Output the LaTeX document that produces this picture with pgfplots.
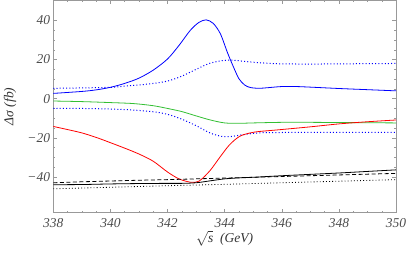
\documentclass[border=0pt]{standalone}
\usepackage{pgfplots}
\pgfplotsset{compat=1.18}
\usepackage{fontspec}
\setmainfont{Liberation Serif}
\definecolor{mgreen}{rgb}{0.2,0.75,0.2}
\definecolor{framegray}{gray}{0.6}
\definecolor{labgray}{gray}{0.3}
\begin{document}
\begin{tikzpicture}
\begin{axis}[
  name=ax,
  scale only axis,
  width=342.7bp, height=212.2bp,
  xmin=338, xmax=350, ymin=-58.3, ymax=50.2,
  axis line style={framegray},
  every tick/.style={framegray},
  tick align=inside,
  major tick length=4bp, minor tick length=2bp,
  xtick={338,340,342,344,346,348,350},
  xticklabels={338,340,342,344,346,348,350},
  ytick={-40,-20,0,20,40},
  yticklabels={−40,−20,0,20,40},
  minor x tick num=3, minor y tick num=3,
  ticklabel style={font=\fontsize{13.5bp}{16bp}\selectfont\itshape, text=labgray},
  xticklabel style={inner sep=0pt, yshift=-6bp},
  yticklabel style={inner sep=0pt, xshift=-3bp},
  xlabel={$\sqrt{\textit{s}}$\ \ \textit{(GeV)}},
  ylabel={\textit{Δσ} \textit{(fb)}},
  label style={font=\fontsize{13.5bp}{16bp}\selectfont, text=black!80},
  xlabel style={at={(axis description cs:0.5,-0.121)}, anchor=center},
  ylabel style={at={(axis description cs:-0.1264,0.5)}, anchor=center},
  clip=true,
]
% blue solid
\addplot[blue, line width=0.8bp, smooth] coordinates {
(338,2.7) (339,3.7) (339.5,4.5) (340,5.8) (340.5,7.8) (341,10.5) (341.5,14.6) (342,20.3) (342.4,27.2) (342.8,35.0) (343.1,39.0) (343.35,40.3) (343.6,38.5) (343.85,33.2) (344.1,23.5) (344.3,16.5) (344.5,10.2) (344.7,7.0) (344.9,5.7) (345.2,5.3) (345.5,5.6) (346,6.2) (346.5,6.2) (347,5.9) (348,5.2) (349,4.6) (350,4.0)
};
% blue dotted upper
\addplot[blue, line width=1bp, smooth, dash pattern=on 1bp off 2.2bp] coordinates {
(338,5.3) (339,5.5) (340,5.8) (340.5,6.4) (341,7.0) (341.5,7.8) (342,9.0) (342.5,11.5) (343,15.0) (343.5,18.2) (344,19.6) (344.3,19.7) (344.8,18.9) (345.5,18.1) (346,17.8) (347,17.7) (348,17.8) (349,17.9) (350,18.0)
};
% blue dotted lower
\addplot[blue, line width=1bp, smooth, dash pattern=on 1bp off 2.2bp] coordinates {
(338,-4.9) (339,-5.0) (340,-5.3) (340.8,-5.8) (341.5,-6.7) (342,-8.0) (342.5,-10.5) (343,-13.8) (343.5,-17.6) (343.9,-19.3) (344.2,-19.4) (344.6,-18.5) (345.2,-17.5) (346,-17.3) (347,-17.2) (348,-17.2) (349,-17.2) (350,-17.3)
};
% green
\addplot[mgreen, line width=0.8bp, smooth] coordinates {
(338,-1.2) (339,-1.5) (340,-2.0) (340.8,-2.5) (341.5,-3.6) (342,-5.0) (342.5,-6.6) (343,-8.8) (343.5,-10.9) (344,-12.4) (344.5,-12.6) (345,-12.4) (346,-12.1) (347,-12.1) (348,-12.2) (349,-12.3) (350,-12.4)
};
% red
\addplot[red, line width=0.8bp, smooth] coordinates {
(338,-14.2) (338.5,-15.8) (339,-17.5) (339.5,-19.8) (340,-22.5) (340.5,-25.3) (341,-28.3) (341.5,-32.0) (342,-37.5) (342.4,-41.0) (342.8,-42.7) (343.1,-42.2) (343.48,-36.9) (343.83,-30.0) (344.17,-23.6) (344.52,-19.3) (344.87,-17.6) (345.2,-16.8) (345.9,-15.9) (347,-14.4) (348,-12.9) (349,-11.8) (350,-10.9)
};
% black solid
\addplot[black, line width=0.8bp, smooth] coordinates {
(338,-44.0) (339,-43.9) (340,-43.6) (341,-43.4) (342,-43.3) (342.5,-43.3) (343,-43.0) (343.5,-42.0) (344,-41.0) (344.5,-40.5) (345,-40.2) (346,-39.4) (347,-38.7) (348,-38.0) (349,-37.2) (350,-36.4)
};
% black dashed
\addplot[black, line width=0.8bp, dash pattern=on 4bp off 2.5bp] coordinates {
(338,-43.0) (339,-42.5) (340,-42.1) (341,-41.7) (342,-41.4) (343,-41.0) (344,-40.6) (345,-40.2) (346,-39.8) (347,-39.4) (348,-39.0) (349,-38.6) (350,-38.2)
};
% black dotted
\addplot[black, line width=0.8bp, dash pattern=on 0.9bp off 2.2bp] coordinates {
(338,-46.1) (340,-45.3) (342,-44.5) (344,-43.8) (346,-43.0) (348,-42.2) (350,-41.4)
};
\end{axis}
\pgfresetboundingbox
\path ([shift={(-53.3bp,-48.3bp)}]ax.south west) rectangle ([shift={(11bp,0.5bp)}]ax.north east);
\end{tikzpicture}
\end{document}
